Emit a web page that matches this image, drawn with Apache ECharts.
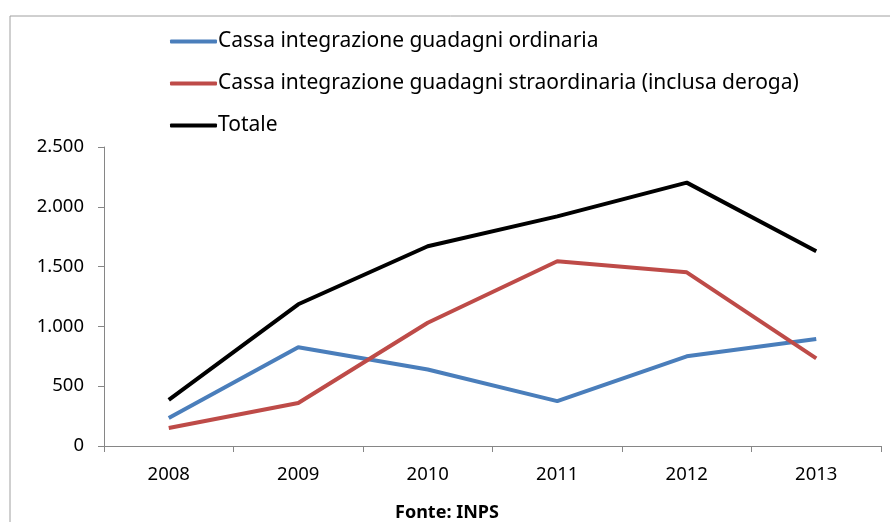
<!DOCTYPE html>
<html>
<head>
<meta charset="utf-8">
<script src="https://cdn.jsdelivr.net/npm/echarts@6/dist/echarts.min.js"></script>
<style>html,body{margin:0;padding:0;background:#fff}#c{width:890px;height:522px}</style>
</head>
<body>
<div id="c"></div>
<script>
const categories = ['2008', '2009', '2010', '2011', '2012', '2013'];
const ordinaria = [235, 825, 640, 375, 750, 895];
const straordinaria = [150, 360, 1030, 1545, 1452, 733];
const totale = [385, 1185, 1670, 1920, 2202, 1628];
const seriesNames = [
  'Cassa integrazione guadagni ordinaria',
  'Cassa integrazione guadagni straordinaria (inclusa deroga)',
  'Totale'
];
const yMin = 0, yMax = 2500, yInterval = 500;

const FONT = 'Noto Sans';
const axisColor = '#868686';
const fmt = v => String(v).replace(/\B(?=(\d{3})+(?!\d))/g, '.');

const chart = echarts.init(document.getElementById('c'));
chart.setOption({
  animation: false,
  backgroundColor: '#fff',
  textStyle: { fontFamily: FONT },
  graphic: [
    { type: 'rect', shape: { x: 10, y: 16, width: 900, height: 520 },
      style: { fill: 'none', stroke: '#a0a0a0', lineWidth: 1 } },
    { type: 'text', left: 395, top: 504,
      style: { text: 'Fonte: INPS', font: 'bold 18px ' + FONT, fill: '#000' } }
  ],
  legend: {
    orient: 'vertical', left: 165, top: 26, itemGap: 21,
    itemWidth: 47, itemHeight: 4, icon: 'roundRect',
    textStyle: { fontFamily: FONT, fontSize: 21, lineHeight: 21, color: '#000', padding: [0, 0, 0, -4] },
    data: seriesNames
  },
  grid: { left: 104, right: 9, top: 147, bottom: 76 },
  xAxis: {
    type: 'category', data: categories, boundaryGap: true,
    axisLine: { lineStyle: { color: axisColor } },
    axisTick: { show: true, length: 6, lineStyle: { color: axisColor } },
    axisLabel: { color: '#000', fontSize: 18.5, margin: 19, fontFamily: FONT }
  },
  yAxis: {
    type: 'value', min: yMin, max: yMax, interval: yInterval,
    splitLine: { show: false },
    axisLine: { show: true, lineStyle: { color: axisColor } },
    axisTick: { show: true, length: 6, lineStyle: { color: axisColor } },
    axisLabel: { color: '#000', fontSize: 18.5, margin: 20, fontFamily: FONT, formatter: fmt }
  },
  series: [
    { name: seriesNames[0], type: 'line', data: ordinaria, symbol: 'none',
      color: '#4A7EBB', lineStyle: { width: 4, color: '#4A7EBB' } },
    { name: seriesNames[1], type: 'line', data: straordinaria, symbol: 'none',
      color: '#BE4B48', lineStyle: { width: 4, color: '#BE4B48' } },
    { name: seriesNames[2], type: 'line', data: totale, symbol: 'none',
      color: '#000000', lineStyle: { width: 4, color: '#000000' } }
  ]
});
</script>
</body>
</html>
